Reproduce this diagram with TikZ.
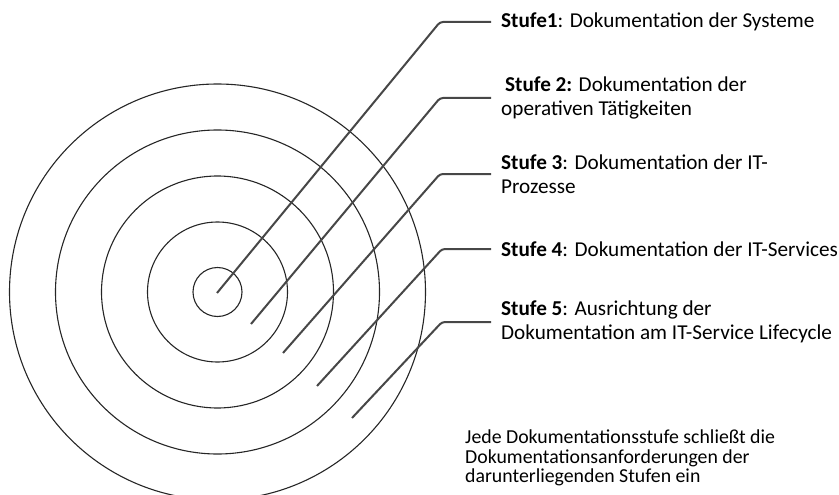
\documentclass[tikz,border=0pt]{standalone}
\usepackage{fontspec}
\setmainfont{Carlito}
\usepackage{tikz}
\usetikzlibrary{positioning}
\tikzset{ring/.style = {draw = black!85, line width = 1.1pt}}
\tikzset{leader/.style = {draw = black!72, line width = 2pt, rounded corners = 3pt}}
\tikzset{stufe/.style = {anchor = west, inner xsep = 10pt, inner ysep = 0, align = left,
    font = \fontsize{21.2}{23.5}\selectfont}}

\begin{document}
\begin{tikzpicture}[x = 1pt, y = -1pt]
      \clip (0, 0) rectangle (839, 495);
      \useasboundingbox (0, 0) rectangle (839, 495);
      \coordinate (mid) at (217.5, 292);
      \foreach \r in {24.5, 70, 116, 162, 208} {
        \draw [ring] (mid) circle (\r);
      }
      % start inside the rings and bend point of each leader
      \foreach \i/\sx/\sy/\kx/\ky in {1/217/293/440/22, 2/251/324/440/98,
          3/283/353/440/174, 4/317/386/442/249, 5/352/418/442/322} {
        \coordinate (s\i) at (\sx, \sy);
        \coordinate (k\i) at (\kx, \ky);
      }
      \node [stufe] (t1) at (491, 22) {\textbf{Stufe1}: Dokumentation der Systeme};
      \node [stufe] (t2) at (491, 98) {\hspace{4pt}\textbf{Stufe 2:} Dokumentation der\\operativen Tätigkeiten};
      \node [stufe] (t3) at (491, 174) {\textbf{Stufe 3}: Dokumentation der IT-\\Prozesse};
      \node [stufe] (t4) at (491, 249) {\textbf{Stufe 4}: Dokumentation der IT-Services};
      \node [stufe] (t5) at (491, 322) {\textbf{Stufe 5}: Ausrichtung der\\Dokumentation am IT-Service Lifecycle};
      \foreach \i in {1, ..., 5} {
        \draw [leader] (s\i) -- (k\i) -- (t\i.west);
      }
      \node [anchor = west, inner sep = 0, align = left, font = \fontsize{19.8}{19.5}\selectfont]
        (hint) at (465, 458) {Jede Dokumentationsstufe schließt die\\Dokumentationsanforderungen der\\darunterliegenden Stufen ein};
    \end{tikzpicture}
\end{document}
